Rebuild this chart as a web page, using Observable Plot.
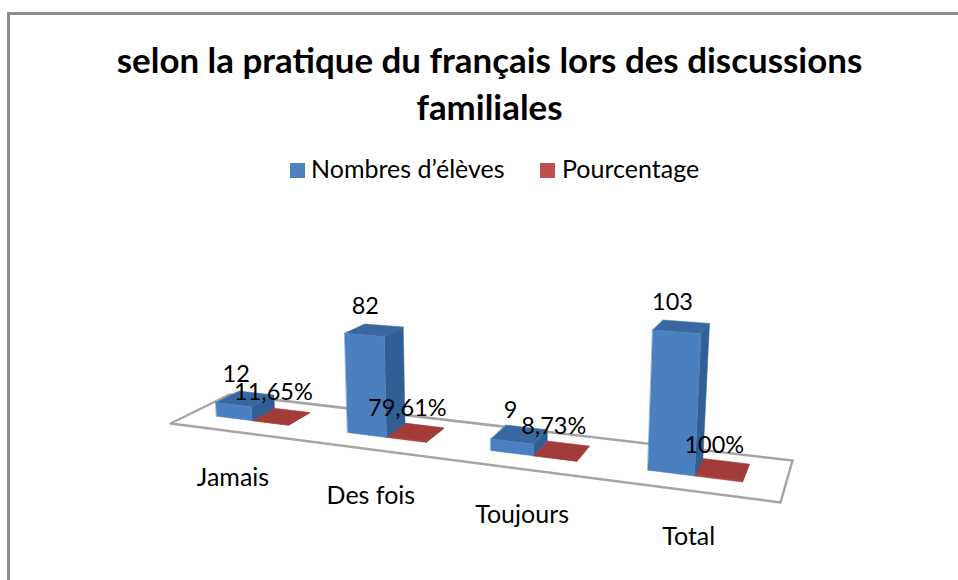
<!DOCTYPE html>
<html><head><meta charset="utf-8">
<script src="https://cdn.jsdelivr.net/npm/d3@7"></script>
<script src="https://cdn.jsdelivr.net/npm/@observablehq/plot@0.6"></script>
<style>
html,body{margin:0;padding:0;background:#fff;width:958px;height:580px;overflow:hidden;font-family:Lato,sans-serif;color:#000}
#ft{position:absolute;left:7px;top:12px;width:951px;height:3px;background:#8c8c8c}
#fl{position:absolute;left:7px;top:12px;width:3px;height:568px;background:#8c8c8c}
#title{position:absolute;left:0;top:36px;width:979px;text-align:center;font-weight:700;font-size:34.9px;line-height:47px}
#legend{position:absolute;left:0;top:153px;width:958px;height:30px;font-size:25px}
#legend span{position:absolute;white-space:nowrap;line-height:30px}
#legend i{position:absolute;width:15px;height:15px;top:10px}
#chart{position:absolute;left:0;top:190px}
</style></head><body>
<div id="ft"></div><div id="fl"></div>
<div id="title">selon la pratique du français lors des discussions<br>familiales</div>
<div id="legend"><i style="left:290px;background:#4f81bd"></i><span style="left:311px">Nombres d’élèves</span><i style="left:540px;background:#c0504d"></i><span style="left:562px">Pourcentage</span></div>
<div id="chart"></div>
<script>
const categories = ["Jamais", "Des fois", "Toujours", "Total"];
const eleves = [12, 82, 9, 103];
const pourcentage = [0.1165, 0.7961, 0.0873, 1];
const pourcentageLabels = ["11,65%", "79,61%", "8,73%", "100%"];

// Perspective view of the chart's 3D box (page pixels)
const FL=[170,423], FR=[780,502], BR=[792,460], BL=[229,394];
const top0=190, H=390;
const barGap=0.2, barW=0.28, d0=0.34, d1=0.75;
const scaleL=1.12, scaleR=1.42;
const nadirX=486, nadirY=5100;
const flatten=0.0035;

function hom(){
  const [x0,y0]=FL,[x1,y1]=FR,[x2,y2]=BR,[x3,y3]=BL;
  const dx1=x1-x2,dx2=x3-x2,sx=x0-x1+x2-x3,dy1=y1-y2,dy2=y3-y2,sy=y0-y1+y2-y3;
  const den=dx1*dy2-dx2*dy1;
  const g=(sx*dy2-dx2*sy)/den,h=(dx1*sy-sx*dy1)/den;
  const a=x1-x0+g*x1,b=x3-x0+h*x3,c=x0,d=y1-y0+g*y1,e=y3-y0+h*y3,f=y0;
  return (u,v)=>{const w=g*u+h*v+1;return [(a*u+b*v+c)/w,(d*u+e*v+f)/w];};
}
const floor=hom();
// category position c (0..4), depth d (0 front..1 back), height v (data units)
function project(c,d,v){
  const [x,y0]=floor(c/4,d);
  const yF=floor(c/4,d0)[1];
  const y=yF+(y0-yF)*(1-flatten*v);
  const k=scaleL+(scaleR-scaleL)*(c/4);
  const px=v*k;
  return [x+(x-nadirX)/(nadirY-y)*px, y-px];
}
function faces(values,offset,name){
  const out=[];
  values.forEach((val,i)=>{
    const a=i+barGap+offset*barW,b=a+barW;
    const add=(face,pts)=>pts.forEach(p=>out.push({id:name+i+face,face,x:p[0],y:p[1]}));
    add("side",[project(b,d0,0),project(b,d1,0),project(b,d1,val),project(b,d0,val)]);
    add("front",[project(a,d0,0),project(b,d0,0),project(b,d0,val),project(a,d0,val)]);
    add("top",[project(a,d0,val),project(b,d0,val),project(b,d1,val),project(a,d1,val)]);
  });
  return out;
}
const blue=faces(eleves,0,"b"), red=faces(pourcentage,1,"r");
const floorPoly=[[0,0],[4,0],[4,1],[0,1]].map(([c,d])=>{const p=project(c,d,0);return {x:p[0],y:p[1]};});
const poly=(data,face,fill)=>Plot.line(data.filter(d=>d.face===face),{x:"x",y:"y",z:"id",curve:"linear-closed",fill,stroke:fill,strokeWidth:0.5});
const lab=(values,offset,text)=>values.map((v,i)=>{const p=project(i+barGap+(offset+.5)*barW,(d0+d1)/2,v);return {x:p[0],y:p[1],t:text(v,i)};});
const catLab=categories.map((t,i)=>{const p=project(i+.5,0,0);return {x:p[0],y:p[1],t};});

const plot=Plot.plot({
  width:958,height:H,margin:0,
  x:{domain:[0,958],range:[0,958],axis:null},
  y:{domain:[top0,top0+H],range:[0,H],axis:null},
  marks:[
    Plot.line(floorPoly,{x:"x",y:"y",curve:"linear-closed",stroke:"#a6a6a6",strokeWidth:2.5,fill:"#fff"}),
    poly(red,"side","#7f2f2d"),poly(red,"front","#a8403d"),poly(red,"top","#a33b38"),
    poly(blue,"side","#305f95"),poly(blue,"top","#38689f"),poly(blue,"front","#4a7fc0"),
    Plot.text(catLab,{x:"x",y:"y",text:"t",dx:-2,dy:46,fontSize:25,fontFamily:"Lato",fill:"#000"}),
    Plot.text(lab(eleves,0,v=>String(v)),{x:"x",y:"y",text:"t",dx:-9,dy:-24,fontSize:23.5,fontFamily:"Lato",fill:"#000"}),
    Plot.text(lab(pourcentage,1,(v,i)=>pourcentageLabels[i]),{x:"x",y:"y",text:"t",dx:-8,dy:-24,fontSize:23.5,fontFamily:"Lato",fill:"#000"})
  ]
});
document.getElementById("chart").appendChild(plot);
</script>
</body></html>
